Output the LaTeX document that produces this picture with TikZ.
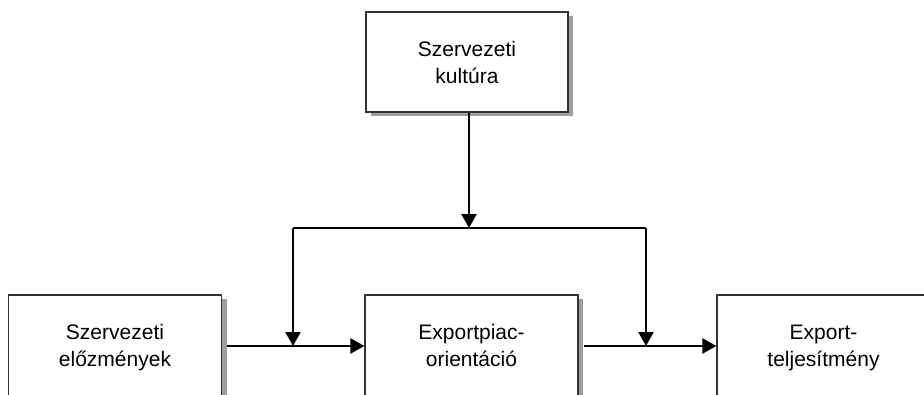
\documentclass[tikz,border=0pt]{standalone}
\usepackage{fontspec}
\setmainfont{Liberation Sans}
\usetikzlibrary{arrows.meta,shadows}
\newcommand{\twolines}[2]{\raisebox{3pt}{\begin{tabular}{@{}c@{}}#1\\#2\end{tabular}}}
\begin{document}
\begin{tikzpicture}[x=1pt,y=-1pt,
  box/.style={draw=black!80,line width=1.1pt,fill=white,minimum width=202pt,minimum height=100pt,
    align=center,font=\fontsize{21}{27}\selectfont,inner sep=0pt,
    drop shadow={shadow xshift=5pt,shadow yshift=-4pt,fill=black!38,opacity=1}},
  wbox/.style={box,minimum width=213pt,minimum height=106pt},
  conn/.style={line width=2.2pt,draw=black},
  arr/.style={conn,-{Triangle[length=14pt,width=15pt]}}]
\useasboundingbox (0,0) rectangle (924,394);
\clip (0,0) rectangle (924,394);
\node[box] (top) at (467,62) {Szervezeti\\kultúra};
\node[wbox] (left) at (115,348) {\twolines{Szervezeti}{előzmények}};
\node[wbox] (mid) at (471.5,348) {\twolines{Exportpiac-}{orientáció}};
\node[wbox] (right) at (823.5,348) {\twolines{Export-}{teljesítmény}};
\coordinate (j) at (469,228);
\coordinate (jl) at (293,228);
\coordinate (jr) at (646,228);
\coordinate (dl) at (293,346);
\coordinate (dr) at (646,346);
\draw[arr] (top.south -| j) -- (j);
\draw[conn] (jl) -- (jr);
\draw[arr] (jl) -- (dl);
\draw[arr] (jr) -- (dr);
\draw[arr] ([xshift=5pt]left.east |- dl) -- (mid.west |- dl);
\draw[arr] ([xshift=5pt]mid.east |- dr) -- (right.west |- dr);
\end{tikzpicture}
\end{document}
